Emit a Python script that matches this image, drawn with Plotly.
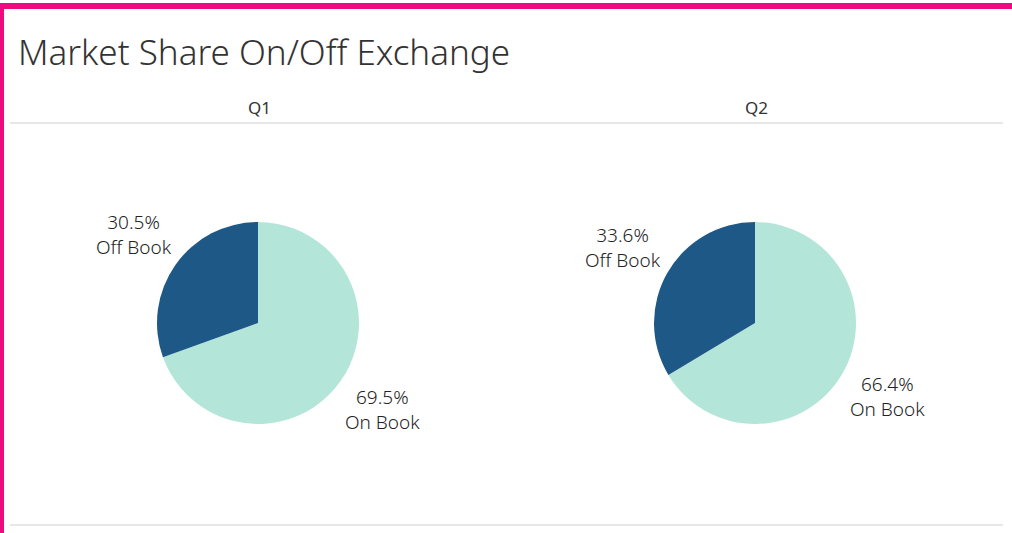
import math
import plotly.graph_objects as go

W, H = 1012, 533

title_text = "Market Share On/Off Exchange"
quarters = ["Q1", "Q2"]
segments = ["On Book", "Off Book"]
on_book = [69.5, 66.4]
off_book = [30.5, 33.6]
colors = {"On Book": "#b3e6d9", "Off Book": "#1d5887"}

FONT = "Noto Sans"
TXT = "#333333"

# layout geometry (pixels)
centers_x = [258, 755]
center_y = 323
radius = 101
label_dist = 152


def px(x):
    return x / W


def py(y):
    return 1 - y / H


fig = go.Figure()
annotations = []
for i, q in enumerate(quarters):
    cx = centers_x[i]
    vals = [on_book[i], off_book[i]]
    fig.add_trace(go.Pie(
        labels=segments,
        values=vals,
        sort=False,
        direction="clockwise",
        rotation=0,
        marker=dict(colors=[colors[s] for s in segments], line=dict(width=0)),
        textinfo="none",
        hoverinfo="label+percent",
        showlegend=False,
        domain=dict(x=[px(cx - radius), px(cx + radius)],
                    y=[py(center_y + radius), py(center_y - radius)]),
        name=q,
    ))
    # labels placed at the mid-angle of each slice
    total = sum(vals)
    start = 0.0
    for s, v in zip(segments, vals):
        mid = (start + v / 2) / total * 2 * math.pi
        start += v
        lx = cx + label_dist * math.sin(mid)
        ly = center_y - label_dist * math.cos(mid)
        annotations.append(dict(
            x=px(lx), y=py(ly - 1), xref="paper", yref="paper",
            text=f"{v:.1f}%<br>{s}", showarrow=False,
            xanchor="center", yanchor="middle", align="center",
            font=dict(family=FONT, size=19, color="#222222", weight=300),
        ))
    annotations.append(dict(
        x=px(cx + 1), y=py(107), xref="paper", yref="paper",
        text=q, showarrow=False, xanchor="center", yanchor="middle",
        font=dict(family=FONT, size=17, color=TXT),
    ))

annotations.append(dict(
    x=px(16), y=py(51), xref="paper", yref="paper",
    text=title_text, showarrow=False, xanchor="left", yanchor="middle",
    font=dict(family=FONT, size=35, color=TXT, weight=300),
))

PINK = "#ec0c80"
shapes = [
    dict(type="line", xref="paper", yref="paper", x0=px(10), x1=px(1003),
         y0=py(123), y1=py(123), line=dict(color="#d0d0d0", width=1)),
    dict(type="line", xref="paper", yref="paper", x0=px(10), x1=px(1003),
         y0=py(525), y1=py(525), line=dict(color="#d0d0d0", width=1)),
    dict(type="rect", xref="paper", yref="paper", x0=0, x1=1,
         y0=py(9), y1=py(3), fillcolor=PINK, line=dict(width=0)),
    dict(type="rect", xref="paper", yref="paper", x0=0, x1=px(4),
         y0=0, y1=py(3), fillcolor=PINK, line=dict(width=0)),
]

fig.update_layout(
    width=W, height=H,
    margin=dict(l=0, r=0, t=0, b=0),
    paper_bgcolor="white",
    plot_bgcolor="white",
    annotations=annotations,
    shapes=shapes,
)

fig.write_html("out.html", config={"displayModeBar": False},
               post_script="document.body.style.margin='0';document.body.style.overflow='hidden';")
